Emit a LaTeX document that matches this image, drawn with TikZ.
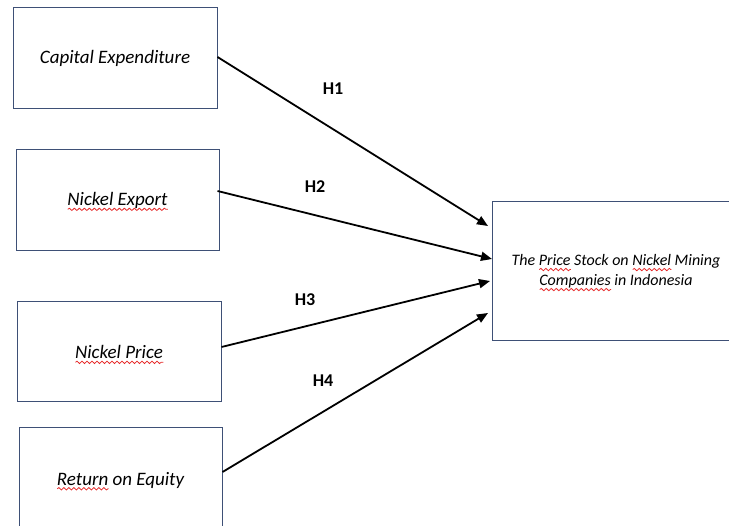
\documentclass[tikz,border=0pt]{standalone}
\usepackage{fontspec}
\setmainfont{Carlito}
\usetikzlibrary{arrows.meta,decorations.pathmorphing}
\definecolor{boxline}{RGB}{62,80,118}
\definecolor{spellred}{RGB}{230,40,40}
\newsavebox\wavebox
\newcommand\redwave[1]{\sbox\wavebox{#1}%
  \rlap{\raisebox{-3.8pt}[0pt][0pt]{\tikz[x=1pt,y=1pt,baseline=0pt]\draw[spellred,line width=0.75pt,decorate,
    decoration={snake,amplitude=1.2pt,segment length=5pt}] (0,0) -- (\the\wd\wavebox,0);}}%
  \usebox\wavebox}
\begin{document}
\begin{tikzpicture}[x=1pt,y=-1pt,
  box/.style={draw=boxline,line width=1pt,inner sep=0pt,fill=white,
    font=\fontsize{19}{23}\selectfont\itshape},
  arr/.style={line width=1.8pt,-{Triangle[length=11pt,width=9pt]}},
  hlab/.style={font=\fontsize{18}{22}\selectfont\bfseries,inner sep=0pt}]
\useasboundingbox[fill=white] (0,0) rectangle (729,526);
\node[box,minimum width=204pt,minimum height=101pt] (ce) at (115,58.5) {Capital Expenditure};
\node[box,minimum width=203pt,minimum height=101pt] (ne) at (117.5,200.5) {\redwave{Nickel Export}};
\node[box,minimum width=204pt,minimum height=100pt] (np) at (119,352) {\redwave{Nickel Price}};
\node[box,minimum width=203pt,minimum height=104pt] (roe) at (120.5,480) {\redwave{Return} on Equity};
\node[box,minimum width=248pt,minimum height=139pt,align=center,
  font=\fontsize{16}{20}\selectfont\itshape] (ps) at (616,271.5)
  {\raisebox{0pt}{}The \redwave{Price} Stock on \redwave{Nickel} Mining\\\redwave{Companies} in Indonesia};
\coordinate (t1) at (488,226);
\coordinate (t2) at (492,259);
\coordinate (t3) at (490,281);
\coordinate (t4) at (488,313);
\draw[arr] ([yshift=1.5pt]ce.east) -- (t1);
\draw[arr] ([xshift=-2pt,yshift=9.5pt]ne.east) -- (t2);
\draw[arr] ([yshift=5pt]np.east) -- (t3);
\draw[arr] ([yshift=8pt]roe.east) -- (t4);
\node[hlab] (h1) at (333,89) {H1};
\node[hlab] (h2) at (315,187) {H2};
\node[hlab] (h3) at (305,300) {H3};
\node[hlab] (h4) at (323,381) {H4};
\end{tikzpicture}
\end{document}
